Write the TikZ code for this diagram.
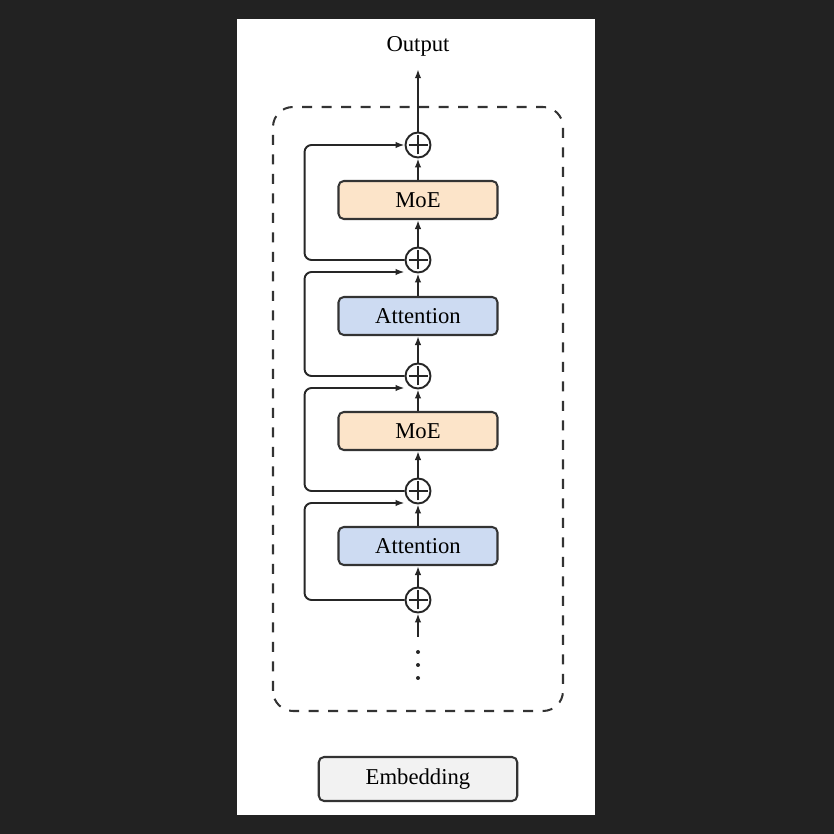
\documentclass[tikz,border=0pt]{standalone}
\usepackage{fontspec}
\setmainfont{Liberation Serif}
\usepackage{xcolor,tikz}
\usetikzlibrary{positioning,arrows.meta}
\definecolor{moec}{HTML}{FCE4C9}
\definecolor{attc}{HTML}{CDDBF2}
\definecolor{embc}{HTML}{F2F2F2}
\definecolor{bgc}{HTML}{222222}

\begin{document}
\begin{tikzpicture}[font=\fontsize{12.9}{15}\selectfont,
 b/.style={draw=black!80,line width=1.15pt,rounded corners=3pt,align=center,
 minimum width=3.18cm,minimum height=0.76cm,inner sep=0pt},
 p/.style={draw=black!85,line width=1.1pt,circle,minimum size=0.5cm,inner sep=0pt,
 path picture={\draw[line width=0.8pt] ([xshift=-1.9mm]path picture bounding box.center)--([xshift=1.9mm]path picture bounding box.center)
 ([yshift=-1.9mm]path picture bounding box.center)--([yshift=1.9mm]path picture bounding box.center);}},
 a/.style={-{Latex[length=1.8mm,width=1.3mm]},line width=1.1pt,black!85},
 s/.style={a,rounded corners=1.4mm}]
\fill[bgc] (0,0) rectangle (16.68,16.68);
\fill[white] (4.74,0.38) rectangle (11.90,16.30);
\draw[black!80,line width=1.15pt,dash pattern=on 2mm off 1.9mm,rounded corners=4mm] (5.46,2.46) rectangle (11.26,14.54);
\node[anchor=base,inner sep=0.24cm] (out) at (8.36,15.64) {Output};
\node[p] (p1) at (8.36,13.78) {};
\node[b,fill=moec] (moe1) at (8.36,12.68) {MoE};
\node[p] (p2) at (8.36,11.48) {};
\node[b,fill=attc] (att1) at (8.36,10.36) {Attention};
\node[p] (p3) at (8.36,9.16) {};
\node[b,fill=moec] (moe2) at (8.36,8.06) {MoE};
\node[p] (p4) at (8.36,6.86) {};
\node[b,fill=attc] (att2) at (8.36,5.76) {Attention};
\node[p] (p5) at (8.36,4.68) {};
\coordinate (in) at (8.36,3.94);
\node[b,fill=embc,minimum width=3.97cm,minimum height=0.88cm] (emb) at (8.36,1.10) {Embedding};
\foreach \y in {3.64,3.38,3.12} \fill[black!85] (8.36,\y) circle (0.04);
\draw[a] (in)--(p5); \draw[a] (p5)--(att2); \draw[a] (att2)--(p4);
\draw[a] (p4)--(moe2); \draw[a] (moe2)--(p3); \draw[a] (p3)--(att1);
\draw[a] (att1)--(p2); \draw[a] (p2)--(moe1); \draw[a] (moe1)--(p1);
\draw[a] (p1)--(out);
\draw[s] (p2.west) -- ++(-2,0) |- (p1.west);
\draw[s] (p3.west) -- ++(-2,0) |- ([yshift=-2.4mm]p2.west);
\draw[s] (p4.west) -- ++(-2,0) |- ([yshift=-2.4mm]p3.west);
\draw[s] (p5.west) -- ++(-2,0) |- ([yshift=-2.4mm]p4.west);
\end{tikzpicture}
\end{document}
